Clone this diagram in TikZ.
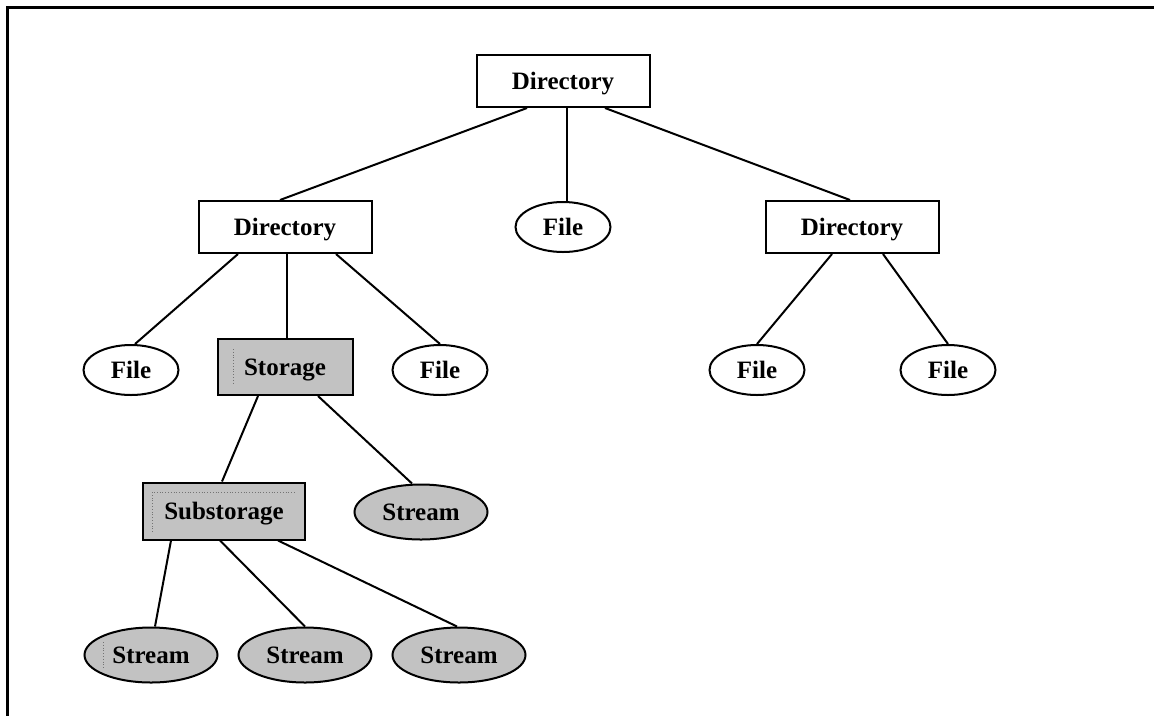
\documentclass[tikz,border=0pt]{standalone}
\usepackage{fontspec}
\setmainfont{Liberation Serif}
\usetikzlibrary{shapes.geometric}
\begin{document}
\begin{tikzpicture}[x=1pt,y=-1pt,
  every node/.style={font=\fontsize{25}{30}\selectfont\bfseries, inner sep=0pt,
    text height=18pt, text depth=2pt, line width=2pt, draw=black},
  dirbox/.style={rectangle, minimum width=173pt, minimum height=52pt, fill=white},
  filenode/.style={ellipse, minimum width=95pt, minimum height=50pt, fill=white},
  storebox/.style={rectangle, fill=black!24},
  streamnode/.style={ellipse, minimum width=133pt, minimum height=55pt, fill=black!24},
  link/.style={line width=2pt},
  focus/.style={draw=black!55, line width=0.8pt, dotted}]
  \useasboundingbox (0,0) rectangle (1154,716);
  \fill[white] (0,0) rectangle (1154,716);
  % outer frame (top and left edges)
  \draw[line width=3pt] (1154,7) -- (7,7) -- (7,716);

  % nodes
  \node[dirbox] (d0) at (563,81) {Directory};
  \node[dirbox] (d1) at (285,227) {Directory};
  \node[filenode] (f0) at (563,227) {File};
  \node[dirbox] (d2) at (852,227) {Directory};
  \node[filenode] (f1) at (131,370) {File};
  \node[storebox, minimum width=135pt, minimum height=56pt] (s0) at (285,367) {Storage};
  \node[filenode] (f2) at (440,370) {File};
  \node[filenode] (f3) at (757,370) {File};
  \node[filenode] (f4) at (948,370) {File};
  \node[storebox, minimum width=162pt, minimum height=57pt] (ss) at (224,511) {Substorage};
  \node[streamnode] (t0) at (421,512) {Stream};
  \node[streamnode] (t1) at (151,655) {Stream};
  \node[streamnode] (t2) at (305,655) {Stream};
  \node[streamnode] (t3) at (459,655) {Stream};

  % dotted focus marks inside the shaded shapes
  \draw[focus] ([xshift=-52pt,yshift=18pt]s0.center) -- ([xshift=-52pt,yshift=-16pt]s0.center);
  \draw[focus] ([xshift=-72pt,yshift=-21pt]ss.center) -- ([xshift=-72pt,yshift=19pt]ss.center) -- ([xshift=71pt,yshift=19pt]ss.center);
  \draw[focus] ([xshift=-48pt,yshift=13pt]t1.center) -- ([xshift=-48pt,yshift=-13pt]t1.center);

  % connectors
  \draw[link] ([xshift=-36pt]d0.south) -- ([xshift=-5pt]d1.north);
  \draw[link] ([xshift=4pt]d0.south) -- ([xshift=4pt]f0.north);
  \draw[link] ([xshift=42pt]d0.south) -- ([xshift=-2pt]d2.north);
  \draw[link] ([xshift=-47pt]d1.south) -- ([xshift=4pt]f1.north);
  \draw[link] ([xshift=2pt]d1.south) -- ([xshift=2pt]s0.north);
  \draw[link] ([xshift=51pt]d1.south) -- (f2.north);
  \draw[link] ([xshift=-20pt]d2.south) -- (f3.north);
  \draw[link] ([xshift=31pt]d2.south) -- (f4.north);
  \draw[link] ([xshift=-27pt]s0.south) -- ([xshift=-2pt]ss.north);
  \draw[link] ([xshift=33pt]s0.south) -- ([xshift=-9pt]t0.north);
  \draw[link] ([xshift=-53pt]ss.south) -- ([xshift=4pt]t1.north);
  \draw[link] ([xshift=-4pt]ss.south) -- (t2.north);
  \draw[link] ([xshift=54pt]ss.south) -- ([xshift=-2pt]t3.north);
\end{tikzpicture}
\end{document}
